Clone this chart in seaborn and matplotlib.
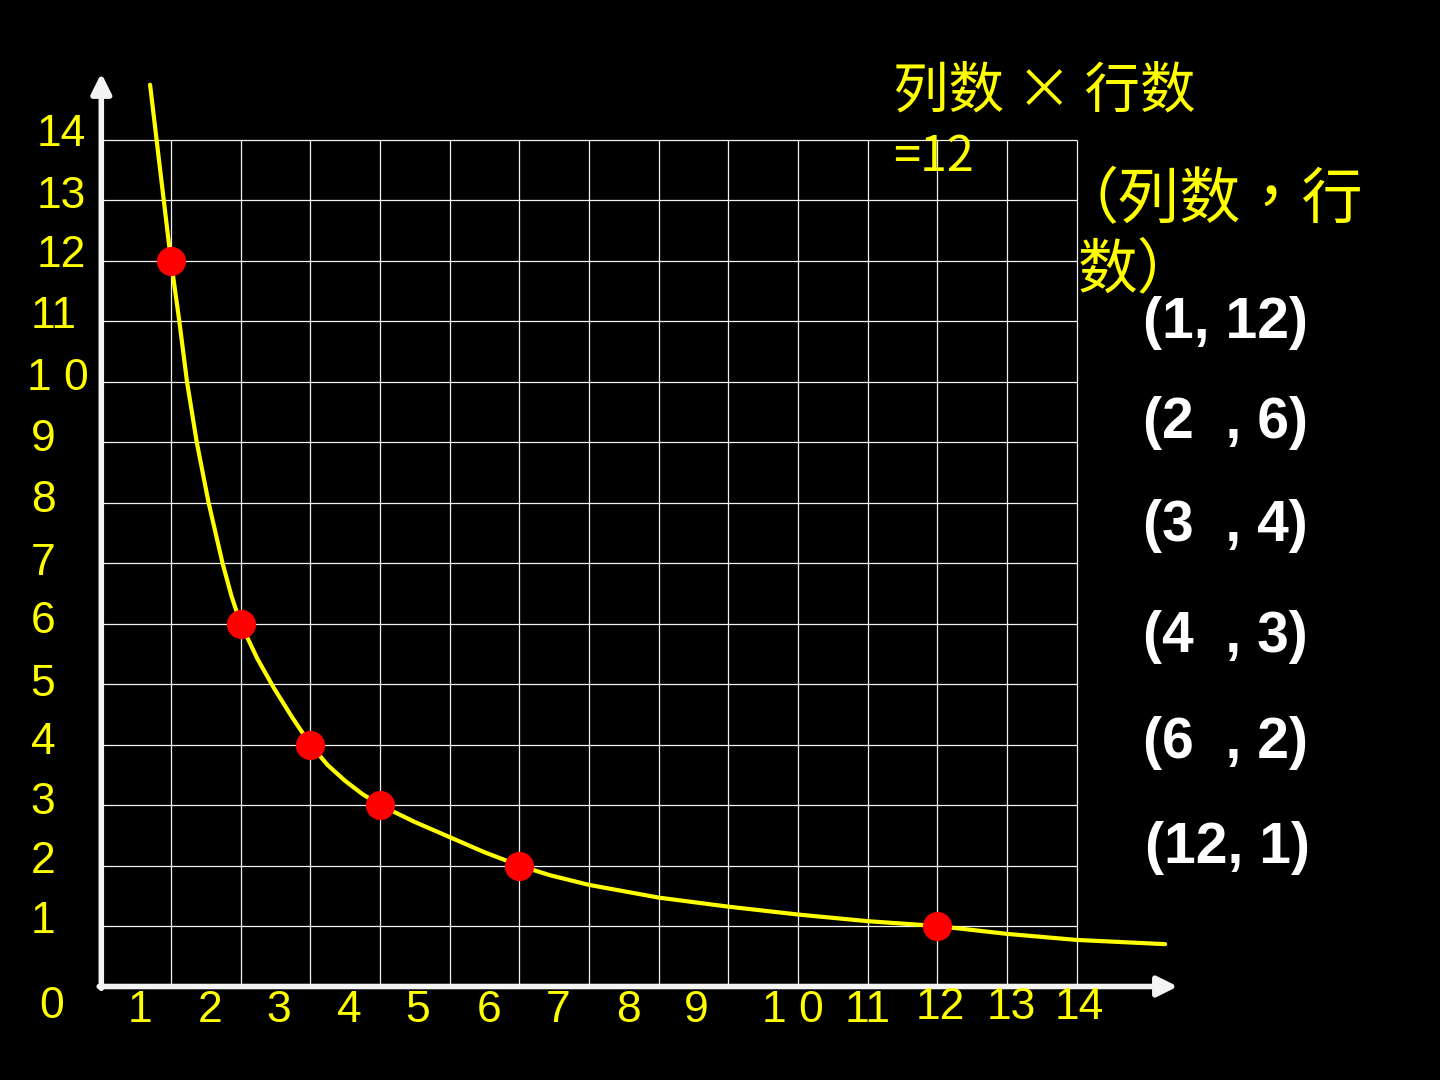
import matplotlib
matplotlib.use("Agg")
import matplotlib.pyplot as plt
import seaborn as sns
import pandas as pd

# ---------------- data ----------------
curve_x = [0.70, 0.85, 1.0, 1.12, 1.23, 1.37, 1.54, 1.74, 1.87, 2.0, 2.24, 2.48,
           2.74, 3.0, 3.25, 3.5, 3.75, 4.0, 4.5, 5.0, 5.5, 6.0, 6.44, 7.0,
           8.0, 9.0, 10.0, 11.0, 12.0, 13.0, 14.0, 15.27]
curve_y = [14.91, 13.45, 12.0, 11.0, 10.0, 9.0, 8.0, 7.0, 6.45, 6.0, 5.42, 4.93,
           4.45, 4.0, 3.66, 3.40, 3.18, 3.0, 2.72, 2.47, 2.22, 2.0, 1.84, 1.68,
           1.47, 1.32, 1.19, 1.08, 1.0, 0.87, 0.77, 0.70]
point_cols = [1, 2, 3, 4, 6, 12]
point_rows = [12, 6, 4, 3, 2, 1]
x_tick_labels = ["1", "2", "3", "4", "5", "6", "7", "8", "9", "1 0", "11", "12", "13", "14"]
y_tick_labels = ["14", "13", "12", "11", "1 0", "9", "8", "7", "6", "5", "4", "3", "2", "1"]
origin_label = "0"
pair_labels = ["(1, 12)", "(2  , 6)", "(3  , 4)", "(4  , 3)", "(6  , 2)", "(12, 1)"]
formula_lines = ["列数 × 行数", "=12"]
pair_title_lines = ["（列数，行", "数）"]
grid_max = 14

# ---------------- layout (positions, in data units) ----------------
x_tick_pos = [0.555, 1.56, 2.55, 3.555, 4.545, 5.564, 6.555, 7.56, 8.536, 9.925,
              11.005, 12.038, 13.057, 14.03]
x_tick_y = [-0.405] * 11 + [-0.339] * 3
y_tick_pos = [14.08, 13.06, 12.08, 11.07, 10.06, 9.04, 8.04, 7.0, 6.03, 5.0,
              4.04, 3.05, 2.06, 1.07]
y_tick_x = [-0.578, -0.578, -0.578, -0.679, -0.62] + [-0.837] * 9
pair_y = [10.97, 9.32, 7.61, 5.78, 4.03, 2.29]
pair_x = [16.13, 16.13, 16.13, 16.13, 16.13, 16.17]

sns.set_theme(style="dark")
plt.rcParams["font.family"] = ["Noto Sans CJK SC", "DejaVu Sans"]

fig = plt.figure(figsize=(14.4, 10.8), dpi=100, facecolor="black")
ax = fig.add_axes([0, 0, 1, 1])
ax.set_facecolor("black")

yellow = "#ffff00"

# grid
ax.vlines(range(1, grid_max + 1), 0, grid_max, colors="#f2f2f2", lw=0.9, zorder=1)
ax.hlines(range(1, grid_max + 1), 0, grid_max, colors="#f2f2f2", lw=0.9, zorder=1)

# axes with arrows
arrow = dict(arrowstyle="-|>,head_length=0.6,head_width=0.3", color="#f4f4f4",
             lw=4, mutation_scale=20, shrinkA=0, shrinkB=0)
ax.annotate("", xy=(15.45, 0), xytext=(-0.03, 0), arrowprops=arrow, zorder=3)
ax.annotate("", xy=(0, 15.10), xytext=(0, -0.03), arrowprops=arrow, zorder=3)

# curve and points
df_curve = pd.DataFrame({"列数": curve_x, "行数": curve_y})
sns.lineplot(data=df_curve, x="列数", y="行数", sort=False, estimator=None,
             color=yellow, lw=3.0, ax=ax, zorder=4)
df_pts = pd.DataFrame({"列数": point_cols, "行数": point_rows})
sns.scatterplot(data=df_pts, x="列数", y="行数", s=440, color="#ff0000",
                edgecolor="#ff0000", linewidth=0, ax=ax, zorder=5)
ax.set_xlim(-1.454, 19.215)
ax.set_ylim(-1.546, 16.311)
ax.axis("off")

# tick labels
tick_font = ["Liberation Sans", "DejaVu Sans"]
for lab, x, y in zip(x_tick_labels, x_tick_pos, x_tick_y):
    ax.text(x, y, lab, color=yellow, fontsize=32, family=tick_font,
            ha="center", va="center")
for lab, x, y in zip(y_tick_labels, y_tick_x, y_tick_pos):
    ax.text(x, y, lab, color=yellow, fontsize=32, family=tick_font,
            ha="center", va="center")
ax.text(-0.709, -0.334, origin_label, color=yellow, fontsize=32, family=tick_font,
        ha="center", va="center")

# right-hand annotations
ax.text(11.363, 14.79, formula_lines[0], color=yellow, fontsize=40,
        ha="left", va="center")
ax.text(11.363, 13.71, formula_lines[1], color=yellow, fontsize=35,
        ha="left", va="center")
ax.text(13.72, 12.99, pair_title_lines[0], color=yellow, fontsize=44,
        family=["Noto Sans CJK TC", "Noto Sans CJK SC", "DejaVu Sans"],
        ha="left", va="center")
ax.text(14.02, 11.83, pair_title_lines[1], color=yellow, fontsize=43,
        ha="left", va="center")
for lab, x, y in zip(pair_labels, pair_x, pair_y):
    ax.text(x, y, lab, color="white", fontsize=41, fontweight="bold",
            family=tick_font, ha="center", va="center")

fig.savefig("out.png", dpi=100, facecolor="black")
